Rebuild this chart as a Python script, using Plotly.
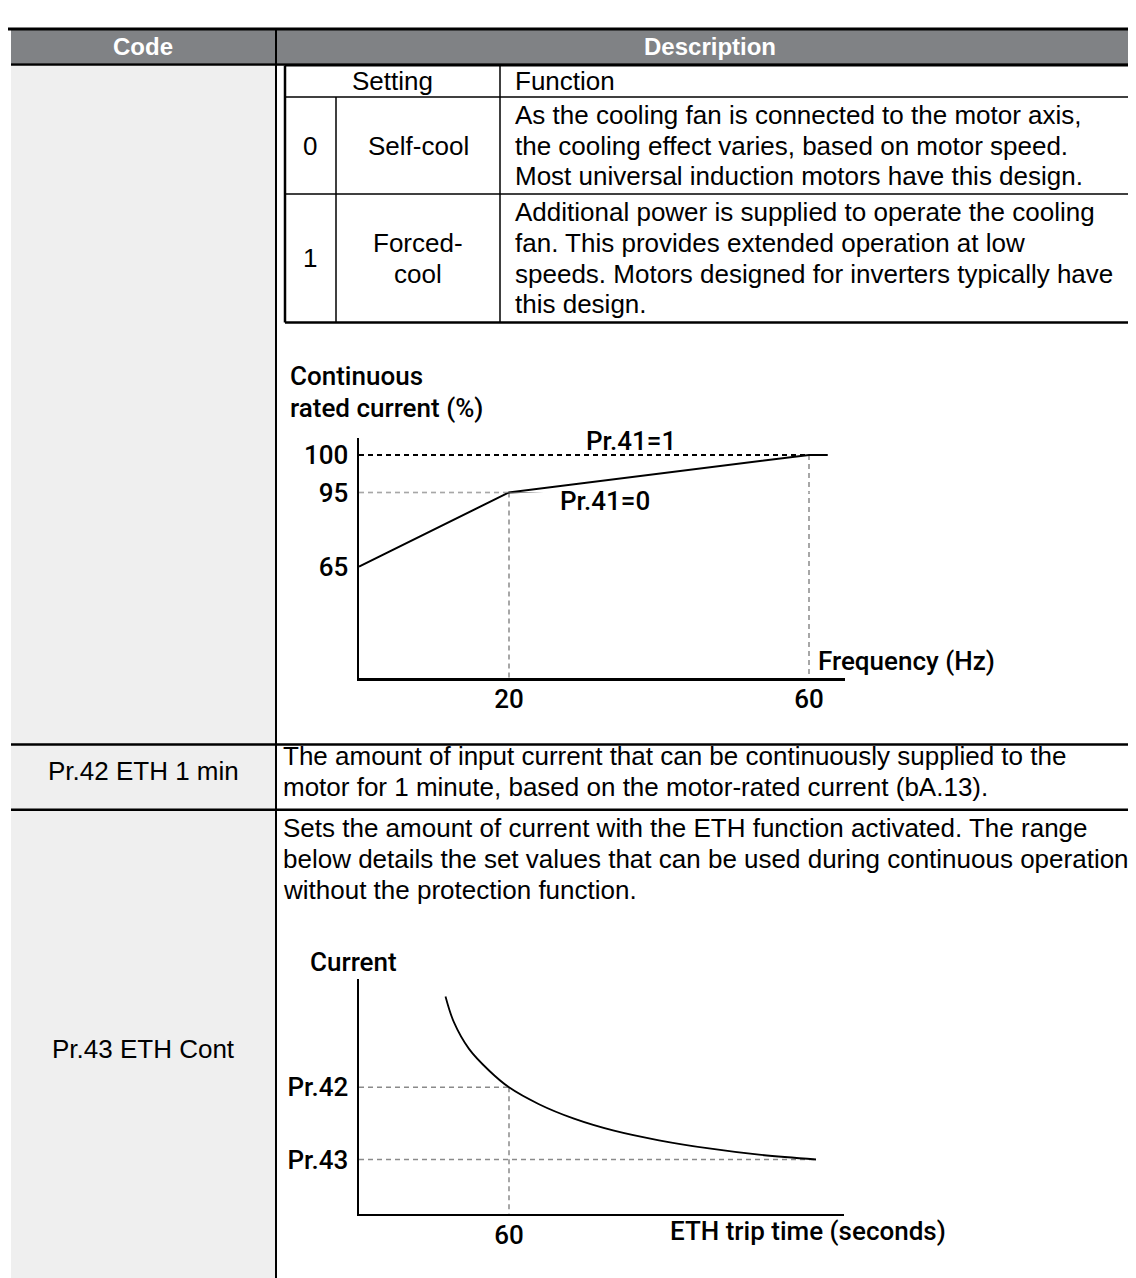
import plotly.graph_objects as go

W, H = 1136, 1278

# ---------------- data ----------------
# Chart 1: continuous rated current vs frequency
freq_hz = [0, 20, 60, 62.5]
rated_current_self = [65, 95, 100, 100]      # Pr.41=0 (self-cool)
freq_forced = [0, 60]
rated_current_forced = [100, 100]            # Pr.41=1 (forced-cool)
freq_ticks = [20, 60]
current_ticks_low = [65, 95]                 # ticks on the lower (broken) segment
current_ticks_high = [100]                   # ticks on the upper segment

# Chart 2: ETH trip time curve (current in % of motor rated current)
trip_time_s = [34.6, 38, 44, 52, 60, 72, 86, 102, 120, 140, 160, 182.8]
eth_current = [187.8, 177, 166, 157, 150, 143, 137, 132, 128, 124.6, 122, 120]
eth_levels = [150, 120]
eth_level_labels = ["Pr.42", "Pr.43"]
trip_ticks = [60]

# Table text
header_labels = ["Code", "Description"]
setting_rows = [
    ("0", ["Self-cool"], ["As the cooling fan is connected to the motor axis,",
                          "the cooling effect varies, based on motor speed.",
                          "Most universal induction motors have this design."]),
    ("1", ["Forced-", "cool"], ["Additional power is supplied to operate the cooling",
                                "fan. This provides extended operation at low",
                                "speeds. Motors designed for inverters typically have",
                                "this design."]),
]
row_codes = ["Pr.42 ETH 1 min", "Pr.43 ETH Cont"]
row_desc = [
    ["The amount of input current that can be continuously supplied to the",
     "motor for 1 minute, based on the motor-rated current (bA.13)."],
    ["Sets the amount of current with the ETH function activated. The range",
     "below details the set values that can be used during continuous operation",
     "without the protection function."],
]

# ---------------- helpers ----------------
def X(px):
    return px / W

def Y(py):
    return 1 - py / H

TABLE_FONT = "Liberation Sans, Arial, sans-serif"
CHART_FONT = "Roboto, Open Sans, sans-serif"

shapes = []
annotations = []

def line(x0, y0, x1, y1, w=2, color="black"):
    shapes.append(dict(type="line", xref="paper", yref="paper",
                       x0=X(x0), y0=Y(y0), x1=X(x1), y1=Y(y1),
                       line=dict(color=color, width=w), layer="above"))

def rect(x0, y0, x1, y1, fill):
    shapes.append(dict(type="rect", xref="paper", yref="paper",
                       x0=X(x0), y0=Y(y0), x1=X(x1), y1=Y(y1),
                       fillcolor=fill, line=dict(width=0), layer="below"))

def text(s, x, y, size=26, family=TABLE_FONT, color="black", xanchor="left",
         weight="normal"):
    annotations.append(dict(text=s, x=X(x), y=Y(y), xref="paper", yref="paper",
                            showarrow=False, xanchor=xanchor, yanchor="middle",
                            font=dict(size=size, family=family, color=color,
                                      weight=weight)))

def lines(strs, x, y0, step, **kw):
    for i, s in enumerate(strs):
        text(s, x, y0 + i * step, **kw)

# ---------------- table frame ----------------
rect(3, 7, W, 41, "#808285")           # header band
rect(3, 43, 267, H, "#efefef")         # code column fill
line(0, 6, W, 6, w=3)                  # top rule
line(3, 42, W, 42, w=2.5)              # under header
line(268, 7, 268, H, w=2)              # column divider
line(3, 730, W, 730, w=2.5)            # row divider
line(3, 796, W, 796, w=2.5)            # row divider

# inner settings table
line(277, 43, 1132, 43, w=2)
line(277, 303, 1132, 303, w=2.5)
line(277, 43, 277, 303, w=2.5)
line(1132, 43, 1132, 303, w=2)
line(277, 75, 1132, 75, w=1.5)
line(277, 173, 1132, 173, w=1.5)
line(328, 75, 328, 303, w=1.5)
line(492, 43, 492, 303, w=1.5)

# header text
text(header_labels[0], 135, 24, size=24, color="white", xanchor="center",
     weight="bold")
text(header_labels[1], 702, 24, size=24, color="white", xanchor="center",
     weight="bold")

# settings table text
text("Setting", 384, 59, xanchor="center")
text("Function", 505, 59)
row_y = [(75, 173), (173, 303)]
for (num, name, desc), (ya, yb) in zip(setting_rows, row_y):
    yc = (ya + yb) / 2
    text(num, 302, yc, xanchor="center")
    step = 31
    n0 = yc - step * (len(name) - 1) / 2
    lines(name, 410, n0, step, xanchor="center")
    d0 = yc - step * (len(desc) - 1) / 2
    lines(desc, 505, d0, step)

# lower rows
text(row_codes[0], 135, 757, xanchor="center")
lines(row_desc[0], 273, 742, 31)
text(row_codes[1], 135, 1038, xanchor="center")
lines(row_desc[1], 273, 815, 31)

# ---------------- charts ----------------
cf = dict(family=CHART_FONT, size=26, color="black", weight=500)

# chart 1: schematic (broken) current axis -> two stacked linear segments
x1_range = [0, 64.8]
y1_low_range = [19.8, 95]        # 2.5 px per %
y1_high_range = [95, 102.24]     # 7.6 px per %
# chart 2 geometry
y2_range = [97.4, 195.2]
x2_range = [0, 194]

fig = go.Figure()

gray = dict(color="#8a8a8a", width=1.5, dash="5px,4px")
bottom1 = y1_low_range[0]

# chart 1 traces drawn on both segments (each segment clips to its own range)
for ya in ["y", "y3"]:
    fig.add_trace(go.Scatter(x=[0, freq_hz[1]], y=[rated_current_self[1]] * 2,
                             mode="lines", line=gray, xaxis="x", yaxis=ya))
    fig.add_trace(go.Scatter(x=[freq_hz[1]] * 2, y=[rated_current_self[1], bottom1],
                             mode="lines", line=gray, xaxis="x", yaxis=ya))
    fig.add_trace(go.Scatter(x=[freq_hz[2]] * 2, y=[rated_current_self[2], bottom1],
                             mode="lines", line=gray, xaxis="x", yaxis=ya))
    fig.add_trace(go.Scatter(x=freq_forced, y=rated_current_forced, mode="lines",
                             line=dict(color="black", width=2, dash="5px,4px"),
                             xaxis="x", yaxis=ya))
    fig.add_trace(go.Scatter(x=freq_hz, y=rated_current_self, mode="lines",
                             line=dict(color="black", width=2), xaxis="x", yaxis=ya))

# chart 2 traces
fig.add_trace(go.Scatter(x=[0, trip_ticks[0]], y=[eth_levels[0]] * 2, mode="lines",
                         line=gray, xaxis="x2", yaxis="y2"))
fig.add_trace(go.Scatter(x=[trip_ticks[0]] * 2, y=[eth_levels[0], y2_range[0]],
                         mode="lines", line=gray, xaxis="x2", yaxis="y2"))
fig.add_trace(go.Scatter(x=[0, trip_time_s[-1]], y=[eth_levels[1]] * 2, mode="lines",
                         line=gray, xaxis="x2", yaxis="y2"))
fig.add_trace(go.Scatter(x=trip_time_s, y=eth_current, mode="lines",
                         line=dict(color="black", width=1.8, shape="spline",
                                   smoothing=1.0),
                         xaxis="x2", yaxis="y2"))

axis_common = dict(showline=True, linecolor="black", linewidth=2.5, showgrid=False,
                   zeroline=False, ticks="", tickfont=cf, fixedrange=True)

fig.update_layout(
    width=W, height=H, autosize=False,
    margin=dict(l=0, r=0, t=0, b=0, pad=0),
    paper_bgcolor="white", plot_bgcolor="rgba(0,0,0,0)",
    showlegend=False,
    xaxis=dict(domain=[X(351), X(837)], range=x1_range, anchor="y",
               tickvals=freq_ticks, ticklabelstandoff=-4, **axis_common),
    yaxis=dict(domain=[Y(663), Y(475)], range=y1_low_range, anchor="x",
               tickvals=current_ticks_low, ticklabelstandoff=3, **axis_common),
    yaxis3=dict(domain=[Y(475), Y(420)], range=y1_high_range, anchor="x",
                tickvals=current_ticks_high, ticklabelstandoff=3, **axis_common),
    xaxis2=dict(domain=[X(351), X(836)], range=x2_range, anchor="y2",
                tickvals=trip_ticks, ticklabelstandoff=-4, **axis_common),
    yaxis2=dict(domain=[Y(1205), Y(967)], range=y2_range, anchor="x2",
                tickvals=eth_levels, ticktext=eth_level_labels,
                ticklabelstandoff=3, **axis_common),
    shapes=shapes,
)

# chart labels
def ctext(s, x, y, xanchor="left"):
    annotations.append(dict(text=s, x=X(x), y=Y(y), xref="paper", yref="paper",
                            showarrow=False, xanchor=xanchor, yanchor="middle",
                            font=cf))

ctext("Continuous", 280, 357)
ctext("rated current (%)", 280, 390)
ctext("Pr.41=1", 623, 423, xanchor="center")
ctext("Pr.41=0", 597, 484, xanchor="center")
ctext("Frequency (Hz)", 808, 646)
ctext("Current", 300, 950)
ctext("ETH trip time (seconds)", 940, 1222, xanchor="right")

fig.update_layout(annotations=annotations)

fig.write_html("out.html", config={"displayModeBar": False, "staticPlot": True})
